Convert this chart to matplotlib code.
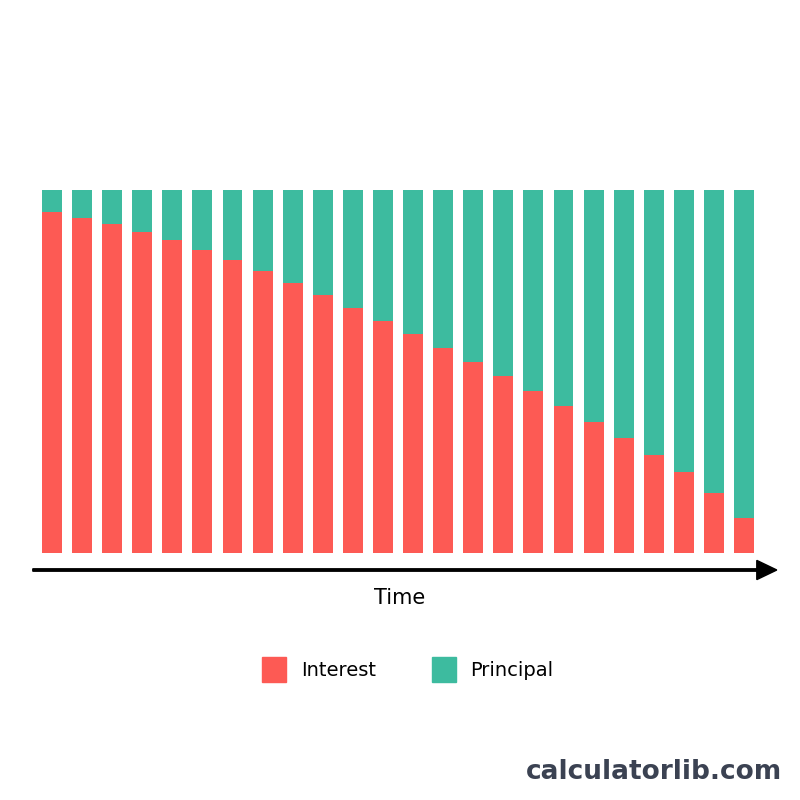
import matplotlib
matplotlib.use("Agg")
import matplotlib.pyplot as plt
from matplotlib.patches import Rectangle, FancyArrow

# share of each payment going to interest (%)
interest = [93.9, 92.3, 90.4, 88.2, 86.0, 83.5, 80.7, 77.7, 74.4, 71.1, 67.5, 63.9,
            60.3, 56.5, 52.6, 48.8, 44.6, 40.5, 36.1, 31.7, 27.0, 22.3, 16.5, 9.6]
principal = [100 - v for v in interest]
periods = list(range(len(interest)))

RED = "#fd5a54"
GREEN = "#3dbb9f"

fig = plt.figure(figsize=(8, 8), dpi=100)
# bars span x 42..754 px, y 190..553 px (of 800)
ax = fig.add_axes([0.0525, 1 - 0.691, 0.89, 0.454])
ax.bar(periods, interest, width=0.66, color=RED)
ax.bar(periods, principal, bottom=interest, width=0.66, color=GREEN)
ax.set_xlim(-0.5 + 0.17, len(periods) - 0.5 - 0.17)
ax.set_ylim(0, 100)
ax.axis("off")

# time arrow
fig.add_artist(FancyArrow(0.041, 1 - 0.7125, 0.905, 0, width=0.003,
                          head_width=0.024, head_length=0.025,
                          color="black", transform=fig.transFigure))
fig.text(0.5, 1 - 0.7475, "Time", ha="center", va="center", fontsize=15)

# legend
fig.add_artist(Rectangle((0.3275, 1 - 0.853), 0.03, 0.032, color=RED, transform=fig.transFigure))
fig.text(0.376, 1 - 0.8375, "Interest", va="center", fontsize=14)
fig.add_artist(Rectangle((0.54, 1 - 0.853), 0.03, 0.032, color=GREEN, transform=fig.transFigure))
fig.text(0.5875, 1 - 0.8375, "Principal", va="center", fontsize=14)

fig.text(0.978, 1 - 0.965, "calculatorlib.com", ha="right", va="center",
         fontsize=19, fontweight="bold", color="#3b4252")

fig.savefig("out.png")
